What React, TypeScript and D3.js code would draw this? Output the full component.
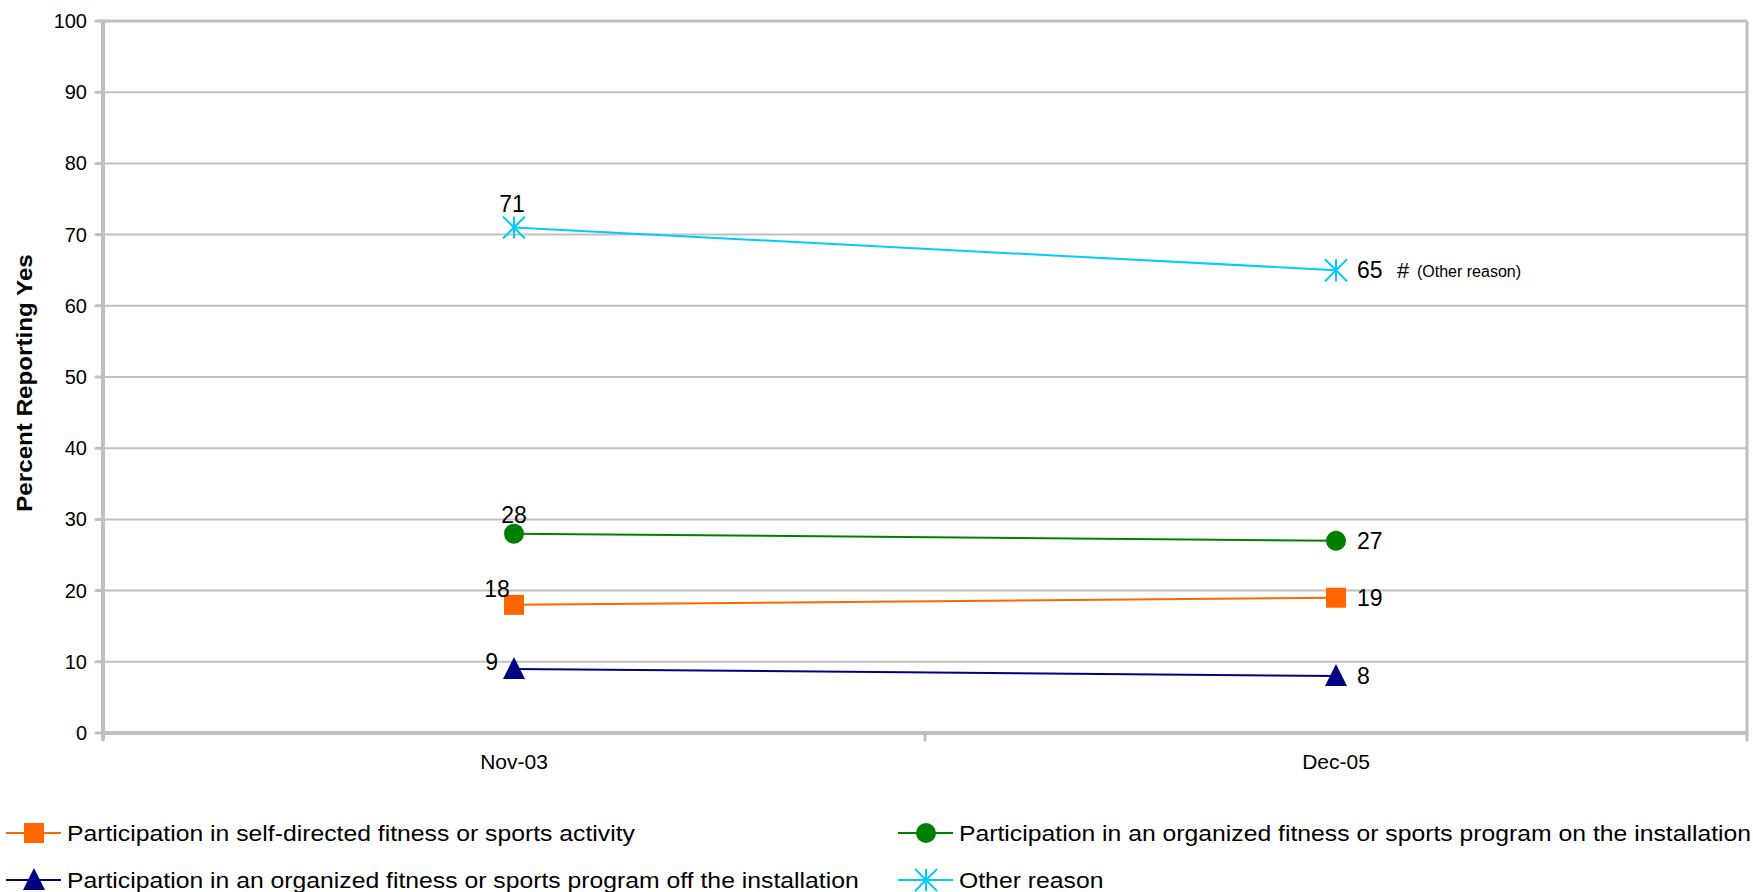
import React from "react";
import * as d3 from "d3";

const categories = ["Nov-03", "Dec-05"];
const selfDirected = [18, 19];
const onInstallation = [28, 27];
const offInstallation = [9, 8];
const otherReason = [71, 65];
const yTicks = [0, 10, 20, 30, 40, 50, 60, 70, 80, 90, 100];

const W = 1753, H = 892;
const left = 103, right = 1747, top = 21, bottom = 733;
const FONT = "'Liberation Sans', Arial, sans-serif";
const GRID = "#c0c0c0";

type Series = { name: string; values: number[]; color: string; marker: string; labelPos: string[] };

const series: Series[] = [
  { name: "Participation in self-directed fitness or sports activity", values: selfDirected, color: "#ff6600", marker: "square", labelPos: ["aboveLeft", "right"] },
  { name: "Participation in an organized fitness or sports program on the installation", values: onInstallation, color: "#008000", marker: "circle", labelPos: ["above", "right"] },
  { name: "Participation in an organized fitness or sports program off the installation", values: offInstallation, color: "#000080", marker: "triangle", labelPos: ["left", "right"] },
  { name: "Other reason", values: otherReason, color: "#00ccff", marker: "star", labelPos: ["aboveHigh", "right"] },
];

function Marker({ type, x, y, color }: { type: string; x: number; y: number; color: string }) {
  if (type === "square") return <rect x={x - 10} y={y - 10} width={20} height={20} fill={color} />;
  if (type === "circle") return <circle cx={x} cy={y} r={10} fill={color} />;
  if (type === "triangle") return <path d={`M${x},${y - 12}L${x + 11},${y + 10}L${x - 11},${y + 10}Z`} fill={color} />;
  const r = 11;
  return (
    <g stroke={color} strokeWidth={2}>
      <line x1={x} y1={y - r} x2={x} y2={y + r} />
      <line x1={x - r} y1={y - r} x2={x + r} y2={y + r} />
      <line x1={x - r} y1={y + r} x2={x + r} y2={y - r} />
    </g>
  );
}

export default function App() {
  const x = d3.scaleBand<string>().domain(categories).range([left, right]).padding(0);
  const y = d3.scaleLinear().domain([0, 100]).range([bottom, top]);
  const cx = (c: string) => (x(c) as number) + x.bandwidth() / 2;
  const line = d3.line<number>().x((_, i) => cx(categories[i])).y((v) => y(v));
  const boundaries = [left, ...categories.map((c) => (x(c) as number) + x.bandwidth())];

  const labelProps = (pos: string, px: number, py: number) => {
    if (pos === "aboveHigh") return { x: px - 2, y: py - 24, anchor: "middle" };
    if (pos === "above") return { x: px, y: py - 19, anchor: "middle" };
    if (pos === "aboveLeft") return { x: px - 17, y: py - 16, anchor: "middle" };
    if (pos === "left") return { x: px - 16, y: py - 7, anchor: "end" };
    return { x: px + 21, y: py, anchor: "start" };
  };

  const legendPos = [
    { lx: 6, ty: 833 },
    { lx: 898, ty: 833 },
    { lx: 6, ty: 880 },
    { lx: 898, ty: 880 },
  ];

  return (
    <svg width={W} height={H} style={{ position: "absolute", left: 0, top: 0, background: "#fff" }} fontFamily={FONT}>
      {yTicks.map((t) => (
        <line key={t} x1={left} x2={right} y1={y(t)} y2={y(t)} stroke={GRID} strokeWidth={2} />
      ))}
      {yTicks.map((t) => (
        <line key={"tk" + t} x1={96} x2={left} y1={y(t)} y2={y(t)} stroke={GRID} strokeWidth={3} strokeLinecap="round" />
      ))}
      {boundaries.map((b, i) => (
        <line key={"xt" + i} x1={b} x2={b} y1={bottom} y2={bottom + 7} stroke={GRID} strokeWidth={3} strokeLinecap="round" />
      ))}
      <line x1={left} x2={right} y1={top} y2={top} stroke={GRID} strokeWidth={3} />
      <line x1={right} x2={right} y1={top} y2={bottom} stroke={GRID} strokeWidth={3} />
      <line x1={left} x2={left} y1={top} y2={bottom + 7} stroke={GRID} strokeWidth={4} />
      <line x1={left} x2={right} y1={bottom} y2={bottom} stroke={GRID} strokeWidth={4} />
      {yTicks.map((t) => (
        <text key={"tl" + t} x={87} y={y(t)} dy="0.35em" textAnchor="end" fontSize={20} fill="#000">{t}</text>
      ))}
      {categories.map((c) => (
        <text key={c} x={cx(c)} y={762} dy="0.35em" textAnchor="middle" fontSize={21} fill="#000">{c}</text>
      ))}
      <text transform={`translate(24,383) rotate(-90) scale(1.1,1)`} textAnchor="middle" dy="0.35em" fontSize={22} fontWeight="bold" fill="#000">Percent Reporting Yes</text>
      {series.map((s) => (
        <g key={s.name}>
          <path d={line(s.values) || ""} fill="none" stroke={s.color} strokeWidth={2} />
          {s.values.map((v, i) => (
            <Marker key={i} type={s.marker} x={cx(categories[i])} y={y(v)} color={s.color} />
          ))}
          {s.values.map((v, i) => {
            const lp = labelProps(s.labelPos[i], cx(categories[i]), y(v));
            return (
              <text key={"l" + i} x={lp.x} y={lp.y} dy="0.35em" textAnchor={lp.anchor as any} fontSize={23} fill="#000">{v}</text>
            );
          })}
        </g>
      ))}
      <text x={1397} y={y(otherReason[1])} dy="0.35em" fontSize={22} fill="#000">#</text>
      <text x={1417} y={y(otherReason[1]) + 1} dy="0.35em" fontSize={16} fill="#000">(Other reason)</text>
      {series.map((s, i) => {
        const p = legendPos[i];
        return (
          <g key={"lg" + i}>
            <line x1={p.lx} x2={p.lx + 55} y1={p.ty} y2={p.ty} stroke={s.color} strokeWidth={2} />
            <Marker type={s.marker} x={p.lx + 28} y={p.ty} color={s.color} />
            <text transform={`translate(${p.lx + 61},${p.ty}) scale(1.125,1)`} dy="0.35em" fontSize={22} fill="#000">{s.name}</text>
          </g>
        );
      })}
    </svg>
  );
}
